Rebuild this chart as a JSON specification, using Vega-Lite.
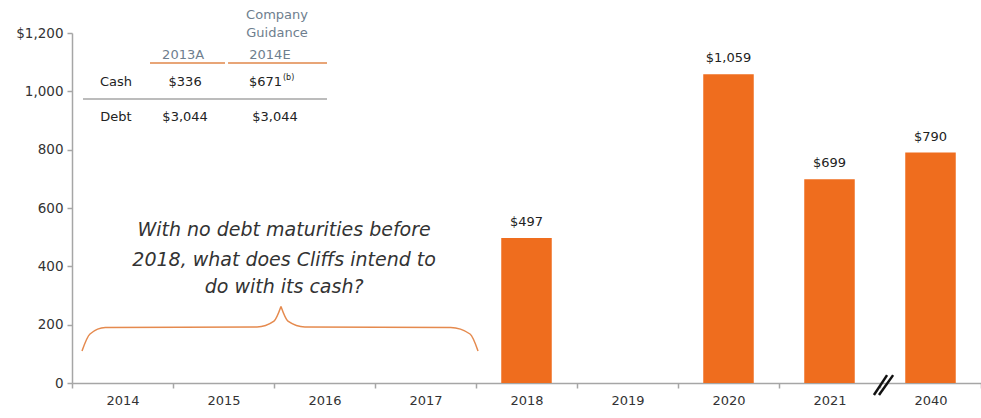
{
  "$schema": "https://vega.github.io/schema/vega-lite/v6.json",
  "width": 909,
  "height": 350,
  "autosize": {"type": "none"},
  "padding": {"left": 72, "top": 33, "right": 0, "bottom": 35},
  "background": "white",
  "config": {"view": {"stroke": null}, "font": "DejaVu Sans"},
  "datasets": {
    "bars": [
      {"year": "2014", "value": null},
      {"year": "2015", "value": null},
      {"year": "2016", "value": null},
      {"year": "2017", "value": null},
      {"year": "2018", "value": 497, "label": "$497"},
      {"year": "2019", "value": null},
      {"year": "2020", "value": 1059, "label": "$1,059"},
      {"year": "2021", "value": 699, "label": "$699"},
      {"year": "2040", "value": 790, "label": "$790"}
    ],
    "hdr": [
      {"u": 2.03, "v": 1262, "t": "Company"},
      {"u": 2.03, "v": 1200, "t": "Guidance"},
      {"u": 1.1, "v": 1125, "t": "2013A"},
      {"u": 1.96, "v": 1125, "t": "2014E"}
    ],
    "cells": [
      {"u": 0.436, "v": 1032, "t": "Cash"},
      {"u": 1.12, "v": 1032, "t": "$336"},
      {"u": 0.436, "v": 912, "t": "Debt"},
      {"u": 1.12, "v": 912, "t": "$3,044"},
      {"u": 2.01, "v": 912, "t": "$3,044"}
    ],
    "cellRight": [
      {"u": 2.079, "v": 1032, "t": "$671"}
    ],
    "sup": [
      {"u": 2.089, "v": 1046, "t": "(b)"}
    ],
    "orangeLines": [
      {"u1": 0.772, "u2": 1.515, "v": 1097},
      {"u1": 1.545, "u2": 2.525, "v": 1097}
    ],
    "grayLines": [
      {"u1": 0.109, "u2": 2.525, "v": 974}
    ],
    "note": [
      {"u": 2.1, "v": 525, "t": "With no debt maturities before"},
      {"u": 2.1, "v": 422, "t": "2018, what does Cliffs intend to"},
      {"u": 2.1, "v": 329, "t": "do with its cash?"}
    ],
    "brace": [
      {"side": "L", "i": 1, "u": 0.099, "v": 110},
      {"side": "L", "i": 2, "u": 0.178, "v": 168},
      {"side": "L", "i": 3, "u": 0.33, "v": 190},
      {"side": "L", "i": 4, "u": 1.832, "v": 192},
      {"side": "L", "i": 5, "u": 2.0, "v": 212},
      {"side": "L", "i": 6, "u": 2.069, "v": 262},
      {"side": "R", "i": 1, "u": 2.069, "v": 262},
      {"side": "R", "i": 2, "u": 2.138, "v": 212},
      {"side": "R", "i": 3, "u": 2.306, "v": 192},
      {"side": "R", "i": 4, "u": 3.75, "v": 190},
      {"side": "R", "i": 5, "u": 3.941, "v": 168},
      {"side": "R", "i": 6, "u": 4.02, "v": 110}
    ],
    "slash": [
      {"u1": 7.94, "u2": 8.07, "v1": -41, "v2": 27},
      {"u1": 7.99, "u2": 8.13, "v1": -41, "v2": 27}
    ]
  },
  "layer": [
    {
      "data": {"name": "bars"},
      "encoding": {
        "x": {
          "field": "year",
          "type": "nominal",
          "sort": null,
          "scale": {"domain": ["2014", "2015", "2016", "2017", "2018", "2019", "2020", "2021", "2040"], "paddingInner": 0, "paddingOuter": 0},
          "axis": {
            "title": null,
            "labelAngle": 0,
            "tickBand": "extent",
            "domainColor": "#A6A6A6",
            "domainWidth": 1.5,
            "tickColor": "#A6A6A6",
            "tickWidth": 1.5,
            "tickSize": 5,
            "labelFontSize": 13,
            "labelColor": "#333333",
            "labelPadding": 6
          }
        },
        "y": {
          "field": "value",
          "type": "quantitative",
          "scale": {"domain": [0, 1200], "nice": false, "zero": true},
          "axis": {
            "title": null,
            "values": [0, 200, 400, 600, 800, 1000, 1200],
            "labelExpr": "datum.value == 1200 ? '$1,200' : format(datum.value, ',')",
            "grid": false,
            "domainColor": "#A6A6A6",
            "domainWidth": 1.5,
            "tickColor": "#A6A6A6",
            "tickWidth": 1.5,
            "tickSize": 5,
            "labelFontSize": 13.5,
            "labelColor": "#333333",
            "labelPadding": 4
          }
        }
      },
      "layer": [
        {"mark": {"type": "bar", "color": "#EF6D1E", "width": {"band": 0.5}}},
        {
          "mark": {"type": "text", "baseline": "middle", "dy": -16, "fontSize": 13, "color": "#222222"},
          "encoding": {"text": {"field": "label"}}
        }
      ]
    },
    {
      "layer": [
        {
          "data": {"name": "hdr"},
          "mark": {"type": "text", "fontSize": 13, "color": "#6E7E8E", "baseline": "middle", "align": "center"},
          "encoding": {
            "x": {"field": "u", "type": "quantitative", "scale": {"domain": [0, 9], "nice": false, "zero": false}, "axis": null},
            "y": {"field": "v", "type": "quantitative", "axis": null},
            "text": {"field": "t"}
          }
        },
        {
          "data": {"name": "cells"},
          "mark": {"type": "text", "fontSize": 13, "color": "#222222", "baseline": "middle", "align": "center"},
          "encoding": {
            "x": {"field": "u", "type": "quantitative", "axis": null},
            "y": {"field": "v", "type": "quantitative", "axis": null},
            "text": {"field": "t"}
          }
        },
        {
          "data": {"name": "cellRight"},
          "mark": {"type": "text", "fontSize": 13, "color": "#222222", "baseline": "middle", "align": "right"},
          "encoding": {
            "x": {"field": "u", "type": "quantitative", "axis": null},
            "y": {"field": "v", "type": "quantitative", "axis": null},
            "text": {"field": "t"}
          }
        },
        {
          "data": {"name": "sup"},
          "mark": {"type": "text", "fontSize": 8, "color": "#222222", "baseline": "middle", "align": "left"},
          "encoding": {
            "x": {"field": "u", "type": "quantitative", "axis": null},
            "y": {"field": "v", "type": "quantitative", "axis": null},
            "text": {"field": "t"}
          }
        },
        {
          "data": {"name": "orangeLines"},
          "mark": {"type": "rule", "color": "#E0874A", "strokeWidth": 1.5},
          "encoding": {
            "x": {"field": "u1", "type": "quantitative", "axis": null},
            "x2": {"field": "u2"},
            "y": {"field": "v", "type": "quantitative", "axis": null}
          }
        },
        {
          "data": {"name": "grayLines"},
          "mark": {"type": "rule", "color": "#A6A6A6", "strokeWidth": 1.5},
          "encoding": {
            "x": {"field": "u1", "type": "quantitative", "axis": null},
            "x2": {"field": "u2"},
            "y": {"field": "v", "type": "quantitative", "axis": null}
          }
        },
        {
          "data": {"name": "note"},
          "mark": {"type": "text", "fontSize": 19, "fontStyle": "italic", "color": "#333333", "baseline": "middle", "align": "center"},
          "encoding": {
            "x": {"field": "u", "type": "quantitative", "axis": null},
            "y": {"field": "v", "type": "quantitative", "axis": null},
            "text": {"field": "t"}
          }
        },
        {
          "data": {"name": "brace"},
          "mark": {"type": "line", "color": "#E58A4E", "strokeWidth": 1.5, "interpolate": "monotone"},
          "encoding": {
            "x": {"field": "u", "type": "quantitative", "axis": null},
            "y": {"field": "v", "type": "quantitative", "axis": null},
            "detail": {"field": "side"},
            "order": {"field": "i"}
          }
        },
        {
          "data": {"name": "slash"},
          "mark": {"type": "rule", "color": "#111111", "strokeWidth": 2.5},
          "encoding": {
            "x": {"field": "u1", "type": "quantitative", "axis": null},
            "x2": {"field": "u2"},
            "y": {"field": "v1", "type": "quantitative", "axis": null},
            "y2": {"field": "v2"}
          }
        }
      ]
    }
  ],
  "resolve": {"scale": {"x": "independent"}, "axis": {"x": "independent", "y": "independent"}}
}
